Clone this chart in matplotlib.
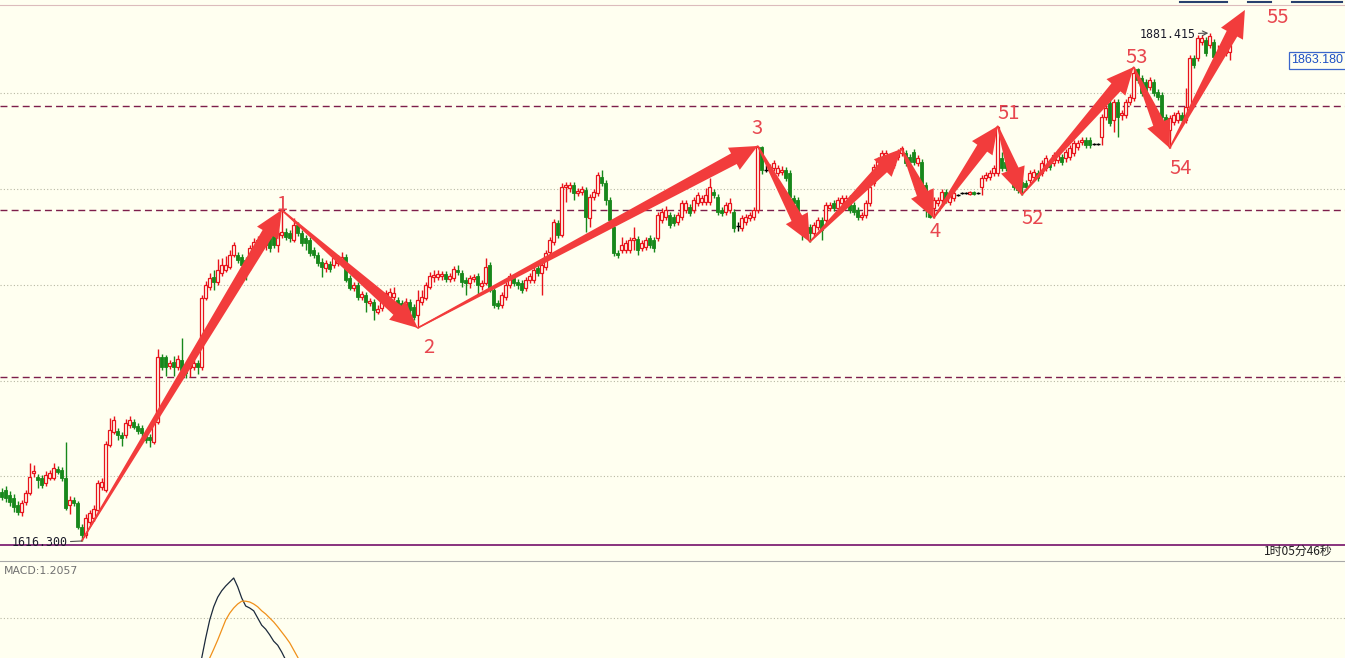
import numpy as np
import matplotlib.pyplot as plt
from matplotlib.patches import Polygon
from matplotlib.lines import Line2D

# ---- candle data (one bar per index) ----
opens = [
    1641.9, 1642.9, 1640.3, 1638.7, 1635.1, 1631.4, 1636.7, 1641.4, 1651.8, 1649.7,
    1649.2, 1646.6, 1649.2, 1649.2, 1653.9, 1653.4, 1649.2, 1635.1, 1637.7, 1636.1,
    1623.6, 1619.4, 1626.2, 1628.3, 1632.5, 1644.5, 1642.9, 1666.4, 1673.2, 1673.7,
    1671.6, 1671.6, 1676.9, 1678.4, 1676.3, 1675.3, 1672.7, 1670.6, 1668.0, 1678.4,
    1712.3, 1712.3, 1707.6, 1709.7, 1707.1, 1710.8, 1706.6, 1706.6, 1707.1, 1709.2,
    1707.1, 1743.1, 1748.9, 1754.1, 1751.5, 1756.2, 1757.8, 1759.3, 1765.6, 1765.6,
    1764.5, 1763.0, 1758.8, 1768.2, 1770.8, 1773.4, 1770.8, 1774.5, 1777.1, 1770.8,
    1776.0, 1777.6, 1777.1, 1773.4, 1781.3, 1777.1, 1774.5, 1773.4, 1768.2, 1765.6,
    1761.9, 1758.8, 1760.9, 1760.4, 1761.4, 1761.4, 1764.5, 1753.6, 1748.4, 1749.9,
    1743.7, 1744.7, 1740.5, 1741.1, 1735.8, 1737.9, 1741.1, 1743.7, 1743.7, 1742.1,
    1740.5, 1738.5, 1741.1, 1738.5, 1734.3, 1741.1, 1743.1, 1748.9, 1754.1, 1754.1,
    1754.6, 1755.7, 1753.1, 1753.6, 1757.8, 1756.2, 1752.5, 1751.0, 1753.1, 1754.6,
    1749.4, 1751.0, 1760.4, 1747.3, 1740.5, 1739.5, 1743.7, 1749.9, 1753.6, 1751.5,
    1751.0, 1748.4, 1752.5, 1752.5, 1758.8, 1756.2, 1759.3, 1767.2, 1772.4, 1782.3,
    1776.0, 1801.1, 1800.6, 1802.1, 1797.9, 1798.5, 1799.5, 1784.9, 1795.9, 1797.9,
    1806.3, 1803.2, 1794.3, 1780.2, 1766.6, 1768.2, 1768.2, 1768.2, 1773.4, 1773.9,
    1769.2, 1769.8, 1774.5, 1773.4, 1774.5, 1783.9, 1785.4, 1786.5, 1785.4, 1782.8,
    1785.4, 1789.1, 1790.6, 1789.1, 1792.7, 1793.3, 1793.3, 1793.3, 1798.5, 1795.9,
    1789.1, 1788.0, 1789.1, 1788.0, 1780.5, 1779.7, 1782.8, 1784.9, 1785.4, 1789.1,
    1822.0, 1810.0, 1810.0, 1811.0, 1808.4, 1808.9, 1810.0, 1808.4, 1795.3, 1794.3,
    1782.3, 1782.3, 1780.2, 1777.1, 1780.2, 1783.9, 1783.9, 1790.1, 1792.7, 1790.1,
    1792.7, 1792.7, 1795.3, 1791.7, 1789.1, 1785.4, 1786.5, 1792.7, 1803.2, 1811.0,
    1813.6, 1815.2, 1816.7, 1812.6, 1816.7, 1818.8, 1818.8, 1816.7, 1819.4, 1813.6,
    1814.1, 1802.1, 1789.1, 1790.1, 1792.7, 1794.3, 1798.5, 1793.3, 1795.3, 1796.9,
    1797.9, 1797.9, 1797.4, 1798.5, 1797.9, 1801.1, 1805.8, 1806.3, 1808.4, 1808.4,
    1816.2, 1814.1, 1811.5, 1806.3, 1804.7, 1803.7, 1803.2, 1804.7, 1806.3, 1808.4,
    1808.4, 1811.0, 1813.6, 1813.6, 1815.2, 1816.7, 1816.2, 1816.7, 1818.8, 1822.0,
    1824.6, 1825.6, 1825.6, 1823.5, 1823.5, 1827.2, 1837.6, 1844.9, 1836.1, 1845.5,
    1838.7, 1838.7, 1845.5, 1847.5, 1862.5, 1858.0, 1855.9, 1853.3, 1855.9, 1850.7,
    1849.1, 1837.6, 1830.8, 1835.0, 1836.1, 1838.7, 1836.1, 1842.8, 1868.4, 1868.4,
    1876.8, 1877.8, 1875.2, 1876.8, 1871.0, 1871.0, 1871.0, 1871.6,
]
closes = [
    1639.3, 1638.7, 1636.7, 1634.0, 1631.4, 1636.1, 1641.4, 1649.7, 1652.8, 1648.1,
    1645.5, 1650.7, 1651.8, 1654.4, 1652.3, 1649.2, 1633.5, 1637.7, 1636.1, 1623.6,
    1619.4, 1628.3, 1630.9, 1633.0, 1646.6, 1647.1, 1666.9, 1674.2, 1679.5, 1671.6,
    1670.1, 1677.9, 1679.5, 1675.8, 1673.7, 1672.7, 1669.0, 1669.0, 1677.9, 1712.3,
    1707.1, 1707.1, 1709.2, 1707.1, 1711.3, 1705.6, 1704.0, 1708.7, 1709.2, 1707.1,
    1743.1, 1749.9, 1753.6, 1751.5, 1757.8, 1760.4, 1760.4, 1765.6, 1770.8, 1763.0,
    1760.4, 1758.8, 1769.2, 1772.4, 1773.4, 1769.8, 1775.0, 1769.2, 1770.8, 1777.1,
    1777.6, 1775.0, 1774.5, 1781.3, 1777.1, 1771.9, 1771.9, 1766.6, 1765.6, 1761.4,
    1759.3, 1761.4, 1758.3, 1764.0, 1763.0, 1764.5, 1752.5, 1748.4, 1749.9, 1743.7,
    1745.2, 1741.1, 1741.6, 1736.9, 1737.4, 1741.1, 1745.8, 1746.3, 1745.8, 1738.5,
    1738.5, 1741.1, 1736.9, 1733.2, 1742.1, 1743.7, 1749.9, 1754.6, 1755.1, 1755.7,
    1755.7, 1753.1, 1754.6, 1758.3, 1756.7, 1751.5, 1751.0, 1753.6, 1754.1, 1749.9,
    1751.0, 1759.3, 1747.3, 1739.5, 1739.0, 1744.7, 1749.9, 1754.6, 1751.0, 1749.9,
    1747.3, 1752.5, 1754.6, 1757.8, 1756.2, 1760.4, 1766.6, 1773.4, 1782.8, 1776.0,
    1801.1, 1802.1, 1802.1, 1797.9, 1799.0, 1800.0, 1785.4, 1795.9, 1798.5, 1807.3,
    1803.2, 1794.3, 1783.9, 1766.6, 1765.6, 1770.8, 1771.9, 1773.4, 1774.5, 1768.2,
    1771.9, 1773.4, 1770.8, 1769.2, 1786.5, 1788.0, 1789.1, 1781.3, 1782.3, 1786.5,
    1792.7, 1792.7, 1787.5, 1794.3, 1796.9, 1795.3, 1796.9, 1801.1, 1796.9, 1788.0,
    1787.5, 1791.7, 1792.7, 1779.7, 1780.5, 1784.9, 1785.4, 1786.5, 1789.1, 1822.0,
    1810.0, 1810.0, 1811.5, 1813.6, 1811.0, 1810.0, 1805.8, 1795.9, 1792.7, 1785.4,
    1777.1, 1776.0, 1777.1, 1781.3, 1783.9, 1778.6, 1791.7, 1791.7, 1790.1, 1794.3,
    1795.3, 1795.3, 1789.1, 1788.0, 1785.4, 1786.5, 1792.7, 1801.1, 1811.5, 1815.2,
    1818.8, 1818.8, 1814.1, 1817.8, 1819.4, 1821.4, 1813.6, 1814.1, 1814.1, 1816.2,
    1802.1, 1789.1, 1785.4, 1794.3, 1794.3, 1798.5, 1794.3, 1796.9, 1797.9, 1796.9,
    1797.9, 1797.9, 1798.5, 1797.4, 1797.9, 1805.8, 1807.3, 1808.4, 1811.0, 1832.4,
    1811.0, 1811.0, 1810.0, 1801.1, 1799.5, 1801.1, 1801.1, 1808.4, 1808.9, 1805.8,
    1813.6, 1816.2, 1811.5, 1817.8, 1819.4, 1814.1, 1819.4, 1821.4, 1824.1, 1824.1,
    1825.6, 1823.0, 1823.0, 1823.5, 1823.5, 1837.6, 1842.3, 1834.5, 1845.5, 1837.6,
    1839.7, 1845.5, 1848.1, 1860.6, 1856.9, 1850.2, 1850.2, 1856.9, 1850.2, 1848.1,
    1837.6, 1835.0, 1837.1, 1838.7, 1839.7, 1836.1, 1842.8, 1868.4, 1864.8, 1878.9,
    1878.9, 1871.0, 1879.9, 1869.0, 1871.6, 1873.6, 1874.2, 1875.2,
]
highs = [
    1644.0, 1645.0, 1642.4, 1640.8, 1637.2, 1637.7, 1642.9, 1657.0, 1656.0, 1651.3,
    1650.7, 1652.8, 1653.4, 1657.0, 1655.5, 1654.9, 1668.0, 1639.8, 1639.3, 1637.2,
    1625.2, 1630.4, 1632.5, 1635.1, 1648.1, 1649.2, 1668.5, 1680.5, 1681.5, 1675.3,
    1673.2, 1680.0, 1681.5, 1680.0, 1677.9, 1676.9, 1674.2, 1672.2, 1679.5, 1716.5,
    1713.9, 1713.4, 1710.8, 1712.9, 1713.4, 1722.3, 1708.2, 1710.8, 1711.8, 1710.8,
    1744.7, 1752.0, 1756.2, 1757.8, 1763.5, 1764.0, 1765.1, 1768.2, 1772.4, 1767.2,
    1766.1, 1764.5, 1770.8, 1774.5, 1775.5, 1775.0, 1777.1, 1776.0, 1779.2, 1778.6,
    1789.1, 1779.7, 1778.6, 1784.9, 1782.8, 1778.6, 1776.0, 1775.0, 1769.8, 1767.2,
    1764.0, 1763.0, 1762.5, 1765.6, 1765.6, 1767.2, 1766.1, 1755.1, 1751.5, 1751.5,
    1746.8, 1746.3, 1743.1, 1742.6, 1739.5, 1742.6, 1747.3, 1748.4, 1748.9, 1743.7,
    1742.1, 1743.1, 1742.6, 1740.0, 1747.3, 1747.3, 1751.5, 1756.7, 1757.8, 1757.8,
    1757.2, 1757.2, 1756.2, 1759.8, 1760.4, 1757.8, 1754.1, 1755.1, 1755.7, 1756.2,
    1752.5, 1764.0, 1761.9, 1748.9, 1742.1, 1746.3, 1751.5, 1756.2, 1755.1, 1753.1,
    1752.5, 1754.1, 1756.2, 1759.3, 1760.4, 1761.9, 1768.2, 1775.0, 1784.4, 1783.9,
    1803.2, 1803.7, 1803.7, 1803.7, 1800.6, 1801.6, 1801.1, 1797.4, 1800.0, 1808.9,
    1810.0, 1804.7, 1795.9, 1781.8, 1768.2, 1775.0, 1773.4, 1775.0, 1780.2, 1775.5,
    1773.4, 1775.0, 1776.0, 1775.0, 1788.0, 1790.1, 1791.2, 1788.0, 1787.0, 1788.0,
    1794.3, 1794.3, 1792.2, 1795.9, 1798.5, 1796.9, 1800.6, 1805.8, 1800.0, 1797.4,
    1790.6, 1793.3, 1795.3, 1789.6, 1782.8, 1786.5, 1787.0, 1788.0, 1790.6, 1822.5,
    1822.3, 1812.6, 1813.1, 1815.2, 1812.6, 1812.1, 1811.5, 1810.0, 1796.9, 1795.9,
    1783.9, 1783.9, 1781.8, 1782.8, 1785.4, 1785.4, 1793.3, 1793.3, 1794.3, 1795.9,
    1796.9, 1796.9, 1796.9, 1793.3, 1790.6, 1788.0, 1794.3, 1802.6, 1813.1, 1816.7,
    1820.4, 1820.4, 1818.3, 1819.4, 1820.9, 1822.5, 1820.4, 1818.3, 1820.9, 1817.8,
    1815.7, 1803.7, 1790.6, 1795.9, 1795.9, 1800.0, 1800.0, 1798.5, 1799.5, 1797.4,
    1798.3, 1798.3, 1799.0, 1799.0, 1798.3, 1807.3, 1808.9, 1810.0, 1812.6, 1832.9,
    1819.4, 1815.7, 1813.1, 1807.9, 1806.3, 1805.3, 1804.7, 1810.0, 1810.5, 1810.0,
    1815.2, 1817.8, 1815.2, 1819.4, 1820.9, 1818.3, 1820.9, 1823.0, 1825.6, 1825.6,
    1827.2, 1827.2, 1827.2, 1824.1, 1824.1, 1839.2, 1843.9, 1846.5, 1847.0, 1847.0,
    1841.3, 1847.0, 1849.6, 1863.7, 1863.2, 1859.5, 1857.5, 1858.5, 1857.5, 1852.2,
    1850.7, 1839.2, 1838.7, 1840.2, 1841.3, 1840.2, 1852.8, 1870.0, 1870.0, 1880.4,
    1880.4, 1879.4, 1881.415, 1878.3, 1875.2, 1875.2, 1875.7, 1876.8,
]
lows = [
    1637.7, 1636.7, 1634.6, 1631.4, 1629.9, 1629.3, 1635.1, 1640.3, 1649.7, 1644.0,
    1644.0, 1645.0, 1648.1, 1648.1, 1651.3, 1647.6, 1632.5, 1630.4, 1634.6, 1622.6,
    1616.3, 1617.9, 1624.7, 1626.7, 1631.4, 1642.9, 1641.9, 1665.4, 1672.2, 1669.0,
    1665.9, 1670.1, 1675.3, 1674.8, 1672.2, 1670.6, 1667.5, 1665.4, 1666.9, 1677.4,
    1705.6, 1702.4, 1706.1, 1702.4, 1705.6, 1703.0, 1701.4, 1701.9, 1705.6, 1703.5,
    1705.6, 1742.1, 1747.3, 1747.3, 1749.9, 1754.6, 1756.7, 1758.3, 1764.5, 1761.4,
    1759.3, 1752.5, 1757.8, 1767.2, 1766.1, 1768.2, 1768.2, 1767.2, 1769.2, 1767.2,
    1774.5, 1773.4, 1772.4, 1772.4, 1775.5, 1770.3, 1768.2, 1765.1, 1764.0, 1759.8,
    1754.1, 1756.7, 1756.7, 1758.8, 1759.8, 1759.8, 1751.5, 1747.3, 1746.8, 1742.1,
    1742.1, 1735.8, 1739.0, 1731.7, 1734.8, 1736.4, 1739.5, 1742.1, 1742.1, 1736.9,
    1736.9, 1736.9, 1735.3, 1731.7, 1727.5, 1739.5, 1742.1, 1747.8, 1751.5, 1752.5,
    1752.5, 1751.5, 1751.5, 1752.0, 1755.1, 1748.9, 1744.7, 1748.4, 1751.5, 1744.7,
    1747.3, 1749.9, 1746.3, 1737.9, 1737.4, 1737.9, 1742.1, 1748.4, 1749.4, 1747.8,
    1745.8, 1746.8, 1751.0, 1751.0, 1754.6, 1744.7, 1757.8, 1765.6, 1770.8, 1774.5,
    1775.0, 1793.3, 1798.5, 1794.3, 1796.4, 1796.9, 1777.6, 1780.2, 1794.3, 1796.4,
    1801.6, 1791.7, 1782.3, 1765.1, 1764.0, 1766.6, 1766.6, 1766.6, 1768.2, 1765.6,
    1767.7, 1768.2, 1769.2, 1767.2, 1772.9, 1782.3, 1783.9, 1779.7, 1780.7, 1781.3,
    1783.9, 1787.5, 1786.0, 1787.5, 1791.2, 1791.7, 1791.7, 1791.7, 1795.3, 1786.5,
    1786.0, 1786.5, 1787.5, 1777.6, 1778.1, 1778.1, 1781.3, 1783.3, 1783.9, 1787.5,
    1807.9, 1808.9, 1808.4, 1809.5, 1806.8, 1807.3, 1804.2, 1794.3, 1791.2, 1783.9,
    1773.4, 1774.5, 1772.4, 1775.5, 1778.6, 1773.4, 1782.3, 1788.6, 1788.6, 1788.6,
    1791.2, 1791.2, 1787.5, 1786.5, 1783.9, 1783.9, 1784.9, 1791.2, 1801.6, 1809.5,
    1812.1, 1813.6, 1812.6, 1811.0, 1815.2, 1817.3, 1812.1, 1812.6, 1812.6, 1812.1,
    1800.6, 1785.4, 1785.0, 1784.9, 1791.2, 1792.7, 1792.7, 1791.7, 1793.8, 1796.4,
    1797.4, 1797.4, 1796.9, 1796.9, 1797.4, 1796.9, 1804.2, 1804.7, 1806.8, 1806.8,
    1809.5, 1809.5, 1808.4, 1799.5, 1797.9, 1796.9, 1799.5, 1803.2, 1804.7, 1804.2,
    1806.8, 1809.5, 1810.0, 1812.1, 1813.6, 1812.6, 1814.1, 1815.2, 1817.3, 1820.4,
    1823.0, 1821.4, 1821.4, 1823.0, 1823.0, 1823.0, 1836.1, 1832.9, 1829.8, 1827.2,
    1836.1, 1837.1, 1843.9, 1846.0, 1855.4, 1848.6, 1848.6, 1851.7, 1848.6, 1846.5,
    1836.1, 1832.4, 1821.4, 1833.4, 1834.5, 1834.5, 1834.5, 1841.3, 1863.2, 1866.9,
    1875.2, 1869.5, 1873.6, 1867.4, 1868.4, 1868.4, 1869.5, 1867.4,
]

# ---- wave pivots (bar index, price) and labels ----
pivot_idx = [20, 70, 104, 189, 202, 225, 233, 249, 255, 283, 292]
pivot_px = [1616.3, 1789.1, 1727.5, 1822.5, 1772.4, 1821.0, 1784.9, 1832.9, 1796.9, 1863.7, 1821.4]
wave_labels = ["", "1", "2", "3", "", "", "4", "51", "52", "53", "54"]
label_off = [(0, 0), (0, 5), (11, -20), (-1, 17), (0, 0), (0, 0), (1, -13), (11, 13), (11, -23), (3, 10), (11, -20)]
target_idx, target_px = 310.8, 1893.5   # end of the last arrow ("55")

dash_levels = [1843.3, 1789.1, 1702.0]
grid_levels = [1650, 1700, 1750, 1800, 1850]

# ---- MACD (visible part only) ----
dif_idx = list(range(49, 73))
dif = [3.5, 5.0, 7.5, 9.75, 11.4, 12.6, 13.4, 14.0, 14.5, 15.0, 13.9, 12.5,
       11.5, 11.25, 10.9, 10.0, 9.1, 8.6, 7.9, 7.1, 6.6, 5.75, 4.75, 3.75]
dea_idx = list(range(51, 76))
dea = [3.75, 5.0, 6.1, 7.25, 8.5, 9.75, 10.6, 11.25, 11.75, 12.1, 12.1, 12.0,
       11.75, 11.4, 10.9, 10.5, 10.0, 9.5, 8.9, 8.25, 7.6, 6.9, 6.0, 5.1, 4.1]

BG = '#fffff0'
RED = '#e8141c'
GREEN = '#17881b'
ARROW = '#f23c3c'
LABEL = '#e8474f'

plt.rcParams['font.family'] = ['DejaVu Sans', 'Noto Sans CJK SC']

W, H = 1345, 658
fig = plt.figure(figsize=(W / 100, H / 100), dpi=100, facecolor=BG)
ax = fig.add_axes([0, 113 / H, 1, 540 / H], facecolor=BG)
ax.set_xlim(-0.425, 335.825)
ax.set_ylim(1614.21, 1896.09)
ax.set_xticks([])
ax.set_yticks([])
for s in ['left', 'right']:
    ax.spines[s].set_visible(False)
ax.spines['top'].set_color('#dcbcbc')
ax.spines['bottom'].set_color('#74106a')
ax.spines['bottom'].set_linewidth(1.2)

for lv in grid_levels:
    ax.axhline(lv, color='#b8b8a4', lw=0.8, ls=(0, (1, 2)), zorder=1)
for lv in dash_levels:
    ax.axhline(lv, color='#7d1e4b', lw=1.0, ls=(0, (5, 3)), zorder=2)

x = np.arange(len(opens))
o = np.array(opens)
c = np.array(closes)
h = np.maximum(np.array(highs), np.maximum(o, c))
l = np.minimum(np.array(lows), np.minimum(o, c))
up = c > o
dn = c < o
fl = c == o
bw = 0.75

ax.vlines(x[up], l[up], h[up], color=RED, lw=1.0, zorder=3)
ax.bar(x[up], c[up] - o[up], bw, bottom=o[up], facecolor=BG, edgecolor=RED, lw=0.9, zorder=4)
ax.vlines(x[dn], l[dn], h[dn], color=GREEN, lw=1.0, zorder=3)
ax.bar(x[dn], o[dn] - c[dn], bw, bottom=c[dn], facecolor=GREEN, edgecolor=GREEN, lw=0.6, zorder=4)
ax.vlines(x[fl], l[fl], h[fl], color='black', lw=1.0, zorder=3)
ax.hlines(c[fl], x[fl] - 0.55, x[fl] + 0.55, color='black', lw=1.0, zorder=4)

# zigzag thin line
ax.plot(pivot_idx, pivot_px, color='#f24444', lw=1.0, zorder=6)


def taper_arrow(ax, x0, y0, x1, y1, w_tail=1.5, w_base=12.0, head_w=25.0, head_len=27.0):
    tr = ax.transData
    p0 = tr.transform((x0, y0))
    p1 = tr.transform((x1, y1))
    d = p1 - p0
    L = np.hypot(*d)
    u = d / L
    n = np.array([-u[1], u[0]])
    hl = min(head_len, 0.4 * L)
    b = p1 - u * hl
    pts = [p0 + n * w_tail / 2, b + n * w_base / 2, b + n * head_w / 2, p1,
           b - n * head_w / 2, b - n * w_base / 2, p0 - n * w_tail / 2]
    ax.add_patch(Polygon(tr.inverted().transform(pts), closed=True,
                         facecolor=ARROW, edgecolor='none', zorder=7))


legs_x = pivot_idx + [target_idx]
legs_y = pivot_px + [target_px]
for i in range(len(legs_x) - 1):
    taper_arrow(ax, legs_x[i], legs_y[i], legs_x[i + 1], legs_y[i + 1])

for xi, yi, lab, off in zip(pivot_idx, pivot_px, wave_labels, label_off):
    if lab:
        ax.annotate(lab, xy=(xi, yi), xytext=off, textcoords='offset pixels',
                    ha='center', va='center', color=LABEL, fontsize=14.5,
                    family=['Noto Sans CJK SC', 'DejaVu Sans'], zorder=8)
ax.annotate('55', xy=(target_idx, target_px), xytext=(33, -8), textcoords='offset pixels',
            ha='center', va='center', color=LABEL, fontsize=14.5,
            family=['Noto Sans CJK SC', 'DejaVu Sans'], zorder=8)

# extreme price marks
lo_i = int(np.argmin(l))
hi_i = int(np.argmax(h))
ax.annotate(f'{l[lo_i]:.3f}', xy=(lo_i, l[lo_i]), xytext=(-14, -2), textcoords='offset pixels',
            ha='right', va='center', fontsize=8.4, family='DejaVu Sans Mono', color='#1a1a2a',
            arrowprops=dict(arrowstyle='-', color='#505050', lw=0.8, shrinkA=0, shrinkB=0), zorder=8)
ax.annotate(f'{h[hi_i]:.3f}', xy=(hi_i, h[hi_i]), xytext=(-14, -1), textcoords='offset pixels',
            ha='right', va='center', fontsize=8.4, family='DejaVu Sans Mono', color='#1a1a2a',
            arrowprops=dict(arrowstyle='->', color='#505050', lw=0.8, shrinkA=0, shrinkB=1), zorder=8)

fig.text(1317 / W, 1 - 60 / H, '1863.180', ha='center', va='center', color='#1c4fc4',
         fontsize=9, family='Liberation Sans',
         bbox=dict(boxstyle='square,pad=0.2', fc=BG, ec='#3a66cc', lw=0.9))

# cut-off buttons at the very top
for x0, x1 in [(1180, 1227), (1248, 1271), (1292, 1342)]:
    fig.add_artist(Line2D([x0 / W, x1 / W], [1 - 1.5 / H, 1 - 1.5 / H], transform=fig.transFigure,
                          color='#28406e', lw=1.5))

fig.text(1333 / W, (H - 551) / H, '1时05分46秒', ha='right', va='center', fontsize=8.6,
         color='#202020', family=['Noto Sans CJK SC', 'DejaVu Sans'])

# ---- MACD panel ----
ax2 = fig.add_axes([0, 0, 1, 97 / H], facecolor=BG)
ax2.set_xlim(-0.425, 335.825)
ax2.set_ylim(5.0, 17.125)
ax2.set_xticks([])
ax2.set_yticks([])
for s in ['left', 'right', 'bottom']:
    ax2.spines[s].set_visible(False)
ax2.spines['top'].set_color('#a8a8a8')
ax2.axhline(10, color='#b8b8a4', lw=0.8, ls=(0, (1, 2)))
ax2.plot(dif_idx, dif, color='#1c2a3c', lw=0.9)
ax2.plot(dea_idx, dea, color='#f0901a', lw=0.9)
ax2.text(4 / W, (658 - 571) / 97, 'MACD:1.2057', transform=ax2.transAxes, ha='left', va='center',
         fontsize=7.8, color='#707070')

fig.savefig('out.png', dpi=100, facecolor=BG)
